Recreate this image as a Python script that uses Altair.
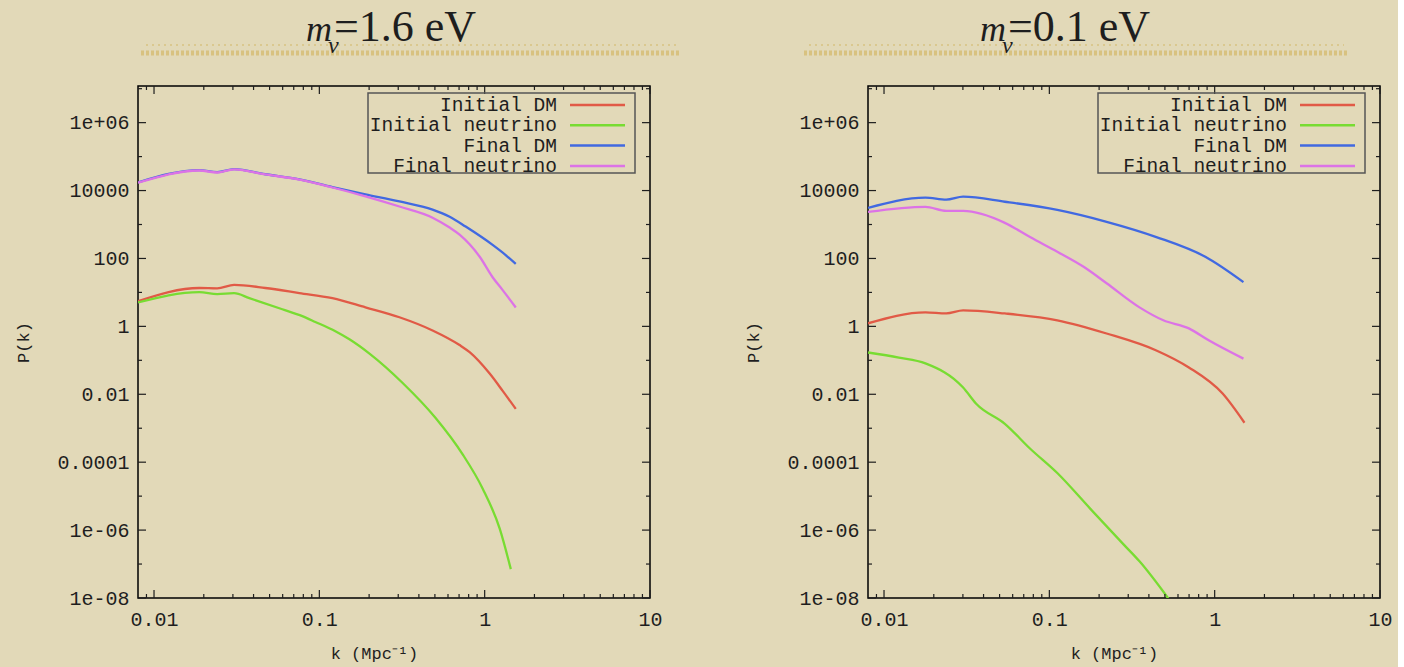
import altair as alt
import pandas as pd

NAMES = ["Initial DM", "Initial neutrino", "Final DM", "Final neutrino"]
COLORS = ["#e15a46", "#78dc32", "#4169e1", "#dc73e6"]

Y_TICKS = [1e-8, 1e-6, 1e-4, 1e-2, 1, 100, 1e4, 1e6]
Y_LABELS = ["1e-08", "1e-06", "0.0001", "0.01", "1", "100", "10000", "1e+06"]
Y_MINOR = [1e-7, 1e-5, 1e-3, 0.1, 10, 1e3, 1e5, 1e7]
X_TICKS = [0.01, 0.1, 1, 10]
X_LABELS = ["0.01", "0.1", "1", "10"]
X_MINOR = [0.009, 0.02, 0.03, 0.04, 0.05, 0.06, 0.07, 0.08, 0.09,
           0.2, 0.3, 0.4, 0.5, 0.6, 0.7, 0.8, 0.9,
           2, 3, 4, 5, 6, 7, 8, 9]

# ---- m_nu = 1.6 eV ----
k_L_idm = [0.008, 0.0188, 0.0241, 0.0305, 0.0471, 0.0757, 0.120, 0.190, 0.305, 0.484, 0.705, 0.811, 1.072, 1.285, 1.542]
P_L_idm = [5.5, 13.5, 13.2, 16.6, 13.5, 9.55, 6.76, 3.63, 1.86, 0.759, 0.282, 0.174, 0.0407, 0.0126, 0.0037]
k_L_inu = [0.008, 0.0188, 0.0241, 0.0305, 0.0377, 0.0597, 0.0789, 0.0946, 0.125, 0.152, 0.201, 0.318, 0.505, 0.736, 0.973, 1.233, 1.439]
P_L_inu = [5.1, 10.2, 8.9, 9.5, 6.8, 3.2, 2.0, 1.35, 0.72, 0.417, 0.158, 0.0219, 0.0020, 1.7e-4, 1.66e-5, 1.1e-6, 7.1e-8]
k_L_fdm = [0.008, 0.0188, 0.0241, 0.0305, 0.0471, 0.0757, 0.120, 0.190, 0.305, 0.484, 0.614, 0.767, 1.117, 1.34, 1.542]
P_L_fdm = [17400, 39800, 34700, 42700, 30200, 21400, 12600, 7760, 4790, 2750, 1700, 871, 251, 126, 69]
k_L_fnu = [0.008, 0.0188, 0.0241, 0.0305, 0.0471, 0.0757, 0.120, 0.190, 0.305, 0.484, 0.614, 0.705, 0.933, 1.117, 1.285, 1.542]
P_L_fnu = [17000, 39000, 34000, 42000, 29800, 21000, 12300, 6760, 3390, 1590, 813, 501, 112, 28, 11.7, 3.6]

# ---- m_nu = 0.1 eV ----
k_R_idm = [0.008, 0.0178, 0.0238, 0.0301, 0.0538, 0.1117, 0.222, 0.444, 0.698, 1.117, 1.514]
P_R_idm = [1.23, 2.57, 2.40, 2.95, 2.40, 1.51, 0.617, 0.195, 0.0617, 0.0105, 0.00145]
k_R_inu = [0.008, 0.0123, 0.0178, 0.0301, 0.0361, 0.0538, 0.0769, 0.1117, 0.176, 0.281, 0.351, 0.531]
P_R_inu = [0.170, 0.120, 0.0813, 0.0158, 0.00525, 0.00135, 2.45e-4, 4.79e-5, 4.37e-6, 3.80e-7, 1.20e-7, 8.9e-9]
k_R_fdm = [0.008, 0.0178, 0.0238, 0.0301, 0.0538, 0.1117, 0.222, 0.444, 0.883, 1.493]
P_R_fdm = [3090, 6170, 5370, 6610, 4680, 2690, 1200, 427, 110, 20]
k_R_fnu = [0.008, 0.0178, 0.0238, 0.0301, 0.0538, 0.0769, 0.1117, 0.162, 0.222, 0.351, 0.489, 0.698, 0.920, 1.493]
P_R_fnu = [2340, 3310, 2510, 2510, 1120, 420, 158, 56, 18.6, 3.63, 1.51, 0.871, 0.389, 0.112]

W, H = 512, 512
MONO = "Liberation Mono"
SERIF = "Liberation Serif"
INK = "#1e1e1e"


def label_expr(vals, labels):
    expr = f"'{labels[-1]}'"
    for v, l in reversed(list(zip(vals[:-1], labels[:-1]))):
        expr = f"datum.value < {v * 1.5} ? '{l}' : " + expr
    return expr


def frame_df(series):
    rows = []
    for name, (ks, ps) in zip(NAMES, series):
        for k, p in zip(ks, ps):
            rows.append({"series": name, "k": k, "P": p})
    return pd.DataFrame(rows)


one = pd.DataFrame({"a": [0]})


def panel(series, value_txt, tx, xtitle_x):
    xs = alt.Scale(type="log", domain=[0.008, 10], nice=False)
    ys = alt.Scale(type="log", domain=[1e-8, 1.2e7], nice=False)
    xaxis = alt.Axis(
        values=X_TICKS, labelExpr=label_expr(X_TICKS, X_LABELS), ticks=False, tickSize=0,
        domain=False, grid=False, labelPadding=11, labelFlush=False,
        title="k (Mpc\u207b\u00b9)", titlePadding=16, titleX=xtitle_x)
    yaxis = alt.Axis(
        values=Y_TICKS, labelExpr=label_expr(Y_TICKS, Y_LABELS), ticks=False, tickSize=0,
        domain=False, grid=False, labelPadding=9, labelFlush=False,
        title="P(k)", titlePadding=24)
    df = frame_df(series)
    lines = alt.Chart(df).mark_line(clip=True, strokeWidth=2.3, interpolate="monotone").encode(
        x=alt.X("k:Q", scale=xs, axis=xaxis),
        y=alt.Y("P:Q", scale=ys, axis=yaxis),
        color=alt.Color("series:N", scale=alt.Scale(domain=NAMES, range=COLORS), legend=None),
        order=alt.Order("k:Q"),
    )
    layers = [lines]
    ymaj = pd.DataFrame({"k": Y_TICKS})
    ymin = pd.DataFrame({"k": Y_MINOR})
    xmaj = pd.DataFrame({"k": X_TICKS})
    xmin = pd.DataFrame({"k": X_MINOR})
    for d, ln in ((ymaj, 8), (ymin, 4)):
        for a, b in ((0, ln), (W - ln, W)):
            layers.append(alt.Chart(d).mark_rule(color=INK, strokeWidth=1.2).transform_calculate(
                P="datum.k").encode(
                y=alt.Y("P:Q", scale=ys, axis=yaxis), x=alt.value(a), x2=alt.value(b)))
    for d, ln in ((xmaj, 8), (xmin, 4)):
        for a, b in ((H, H - ln), (0, ln)):
            layers.append(alt.Chart(d).mark_rule(color=INK, strokeWidth=1.2).encode(
                x=alt.X("k:Q", scale=xs, axis=xaxis), y=alt.value(a), y2=alt.value(b)))
    # legend box
    layers.append(alt.Chart(one).mark_rect(fillOpacity=0, stroke="#555555", strokeWidth=1.5).encode(
        x=alt.value(230), x2=alt.value(497), y=alt.value(7), y2=alt.value(87)))
    for i, (nm, col) in enumerate(zip(NAMES, COLORS)):
        yy = 19 + i * 20.3
        layers.append(alt.Chart(one).mark_text(text=nm, font=MONO, fontSize=19.5, align="right",
                                               baseline="middle", color=INK).encode(
            x=alt.value(419), y=alt.value(yy)))
        layers.append(alt.Chart(one).mark_rule(color=col, strokeWidth=2.5).encode(
            x=alt.value(432), x2=alt.value(487), y=alt.value(yy)))
    # title pieces
    layers.append(alt.Chart(one).mark_text(text="m", font=SERIF, fontStyle="italic", fontSize=36,
                                           align="left", baseline="alphabetic", color=INK).encode(
        x=alt.value(tx), y=alt.value(-45)))
    layers.append(alt.Chart(one).mark_text(text="\u03bd", font=SERIF, fontStyle="italic", fontSize=24,
                                           align="left", baseline="alphabetic", color=INK).encode(
        x=alt.value(tx + 22), y=alt.value(-33)))
    layers.append(alt.Chart(one).mark_text(text=value_txt, font=SERIF, fontSize=44,
                                           align="left", baseline="alphabetic", color=INK).encode(
        x=alt.value(tx + 28), y=alt.value(-45)))
    return layers


def squiggle(x0, x1):
    return [
        alt.Chart(one).mark_rule(color="#cfae52", strokeWidth=5, opacity=0.55, strokeDash=[3, 2]).encode(
            x=alt.value(x0), x2=alt.value(x1), y=alt.value(-33)),
        alt.Chart(one).mark_rule(color="#cfae52", strokeWidth=2, opacity=0.4, strokeDash=[2, 4]).encode(
            x=alt.value(x0 + 5), x2=alt.value(x1 - 5), y=alt.value(-41)),
    ]


left = alt.layer(*(squiggle(3, 543) + panel(
    [(k_L_idm, P_L_idm), (k_L_inu, P_L_inu), (k_L_fdm, P_L_fdm), (k_L_fnu, P_L_fnu)],
    "=1.6 eV", 168, 236))).properties(width=W, height=H)

right = alt.layer(*(squiggle(-64, 481) + panel(
    [(k_R_idm, P_R_idm), (k_R_inu, P_R_inu), (k_R_fdm, P_R_fdm), (k_R_fnu, P_R_fnu)],
    "=0.1 eV", 112, 246))).properties(width=W, height=H)

chart = alt.hconcat(left, right, spacing=59).configure(
    background="#e2d9b8",
    padding={"left": 14, "top": 5, "right": 5, "bottom": 5},
).configure_view(stroke="black", strokeWidth=1.5).configure_axis(
    labelFont=MONO, labelFontSize=20, labelColor=INK,
    titleFont=MONO, titleFontSize=17, titleFontWeight="normal", titleColor=INK,
)

chart.save("out.html", embed_options={"renderer": "svg", "actions": False})
